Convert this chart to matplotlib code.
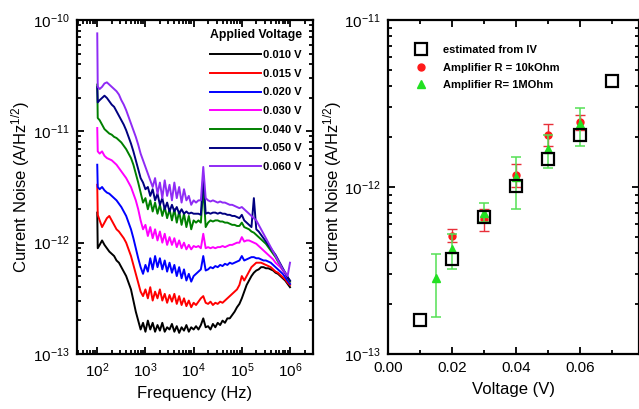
import numpy as np
import matplotlib
matplotlib.use('Agg')
import matplotlib.pyplot as plt
from matplotlib.lines import Line2D
from matplotlib.ticker import LogLocator, MultipleLocator, NullFormatter, FixedLocator

plt.rcParams['font.family'] = ['Liberation Sans', 'DejaVu Sans']
plt.rcParams['mathtext.fontset'] = 'custom'
plt.rcParams['mathtext.rm'] = 'Liberation Sans'
plt.rcParams['mathtext.it'] = 'Liberation Sans:italic'
plt.rcParams['mathtext.bf'] = 'Liberation Sans:bold'

# ---------------- left panel: noise spectra (log10 values) ----------------
log_freq = [2.00, 2.01,
            2.05, 2.10, 2.15, 2.20, 2.25, 2.30, 2.35, 2.40, 2.45, 2.50,
            2.55, 2.60, 2.65, 2.70, 2.75, 2.80, 2.85, 2.90, 2.95, 3.00,
            3.05, 3.10, 3.15, 3.20, 3.25, 3.30, 3.35, 3.40, 3.45, 3.50,
            3.55, 3.60, 3.65, 3.70, 3.75, 3.80, 3.85, 3.90, 3.95, 4.00,
            4.05, 4.10, 4.15, 4.20, 4.25, 4.30, 4.35, 4.40, 4.45, 4.50,
            4.55, 4.60, 4.65, 4.70, 4.75, 4.80, 4.85, 4.90, 4.95, 5.00,
            5.05, 5.10, 5.15, 5.20, 5.25, 5.30, 5.35, 5.40, 5.45, 5.50,
            5.55, 5.60, 5.65, 5.70, 5.75, 5.80, 5.85, 5.90, 5.95, 6.00]

noise_010 = [-11.73, -12.05,
             -12.02, -11.98, -12.02, -12.05, -12.08, -12.10, -12.12, -12.16, -12.18, -12.22,
             -12.26, -12.30, -12.36, -12.42, -12.52, -12.62, -12.70, -12.78, -12.72, -12.80,
             -12.70, -12.78, -12.72, -12.80, -12.74, -12.79, -12.72, -12.80, -12.76, -12.78,
             -12.73, -12.80, -12.75, -12.81, -12.76, -12.79, -12.74, -12.80, -12.76, -12.78,
             -12.75, -12.78, -12.74, -12.68, -12.76, -12.75, -12.78, -12.73, -12.76, -12.72,
             -12.74, -12.70, -12.72, -12.68, -12.68, -12.65, -12.62, -12.58, -12.55, -12.50,
             -12.44, -12.38, -12.34, -12.30, -12.27, -12.25, -12.24, -12.22, -12.22, -12.23,
             -12.23, -12.24, -12.25, -12.27, -12.28, -12.30, -12.32, -12.34, -12.37, -12.40]

noise_015 = [-11.48, -11.75,
             -11.80, -11.86, -11.82, -11.78, -11.76, -11.80, -11.84, -11.88, -11.90, -11.93,
             -11.96, -12.00, -12.06, -12.12, -12.20, -12.28, -12.36, -12.44, -12.48, -12.42,
             -12.50, -12.40, -12.52, -12.44, -12.50, -12.42, -12.52, -12.46, -12.54, -12.47,
             -12.53, -12.46, -12.55, -12.48, -12.56, -12.50, -12.57, -12.52, -12.58, -12.54,
             -12.56, -12.53, -12.50, -12.48, -12.54, -12.55, -12.53, -12.56, -12.54, -12.55,
             -12.53, -12.54, -12.52, -12.50, -12.48, -12.46, -12.44, -12.42, -12.38, -12.30,
             -12.34, -12.30, -12.26, -12.22, -12.20, -12.18, -12.18, -12.18, -12.19, -12.20,
             -12.21, -12.22, -12.24, -12.26, -12.27, -12.29, -12.31, -12.33, -12.36, -12.38]

noise_020 = [-11.30, -11.50,
             -11.52, -11.50, -11.53, -11.55, -11.56, -11.58, -11.60, -11.62, -11.65, -11.68,
             -11.72, -11.76, -11.82, -11.88, -11.96, -12.05, -12.14, -12.22, -12.28, -12.20,
             -12.26, -12.14, -12.24, -12.12, -12.22, -12.14, -12.24, -12.16, -12.26, -12.18,
             -12.27, -12.20, -12.30, -12.22, -12.32, -12.24, -12.34, -12.28, -12.35, -12.30,
             -12.28, -12.26, -12.24, -12.12, -12.25, -12.24, -12.22, -12.23, -12.21, -12.22,
             -12.20, -12.21, -12.19, -12.20, -12.18, -12.19, -12.18, -12.17, -12.16, -12.12,
             -12.16, -12.15, -12.14, -12.13, -12.13, -12.14, -12.14, -12.15, -12.16, -12.16,
             -12.17, -12.18, -12.20, -12.22, -12.24, -12.26, -12.28, -12.31, -12.34, -12.37]

noise_030 = [-10.97, -11.18,
             -11.20, -11.18, -11.22, -11.24, -11.25, -11.26, -11.28, -11.30, -11.33, -11.36,
             -11.39, -11.42, -11.46, -11.50, -11.56, -11.62, -11.70, -11.80, -11.88, -11.84,
             -11.94, -11.86, -11.96, -11.88, -11.98, -11.90, -12.00, -11.92, -12.02, -11.95,
             -12.02, -11.96, -12.04, -11.98, -12.05, -12.00, -12.06, -12.02, -12.06, -12.03,
             -12.04, -12.03, -12.05, -11.92, -12.05, -12.04, -12.05, -12.04, -12.05, -12.04,
             -12.04, -12.03, -12.04, -12.03, -12.02, -12.02, -12.01, -12.00, -12.00, -11.95,
             -11.99, -11.98, -11.98, -11.99, -12.00, -12.01, -12.03, -12.05, -12.07, -12.09,
             -12.11, -12.13, -12.15, -12.18, -12.20, -12.22, -12.25, -12.28, -12.31, -12.35]

noise_040 = [-10.58, -10.88,
             -10.90, -10.94, -10.98, -11.00, -11.02, -11.03, -11.05, -11.06, -11.08, -11.10,
             -11.13, -11.16, -11.20, -11.24, -11.30, -11.38, -11.46, -11.55, -11.64, -11.60,
             -11.70, -11.62, -11.72, -11.64, -11.74, -11.66, -11.76, -11.68, -11.78, -11.70,
             -11.80, -11.70, -11.82, -11.72, -11.84, -11.74, -11.86, -11.76, -11.88, -11.80,
             -11.82, -11.80, -11.82, -11.50, -11.86, -11.82, -11.80, -11.81, -11.80, -11.80,
             -11.81, -11.81, -11.82, -11.82, -11.83, -11.84, -11.84, -11.85, -11.85, -11.82,
             -11.86, -11.87, -11.88, -11.90, -11.91, -11.93, -11.95, -11.97, -11.99, -12.01,
             -12.04, -12.07, -12.10, -12.13, -12.17, -12.20, -12.24, -12.27, -12.31, -12.35]

noise_050 = [-10.60, -10.74,
             -10.72, -10.70, -10.68, -10.70, -10.73, -10.76, -10.78, -10.82, -10.86, -10.90,
             -10.94, -10.99, -11.05, -11.11, -11.18, -11.26, -11.34, -11.42, -11.46, -11.52,
             -11.50, -11.58, -11.52, -11.62, -11.56, -11.66, -11.60, -11.70, -11.64, -11.72,
             -11.66, -11.72, -11.68, -11.74, -11.70, -11.74, -11.72, -11.74, -11.73, -11.74,
             -11.74, -11.74, -11.75, -11.40, -11.74, -11.73, -11.74, -11.73, -11.73, -11.74,
             -11.73, -11.74, -11.74, -11.75, -11.75, -11.76, -11.76, -11.77, -11.78, -11.75,
             -11.80, -11.82, -11.84, -11.86, -11.60, -11.88, -11.90, -11.93, -11.96, -11.99,
             -12.02, -12.05, -12.08, -12.11, -12.15, -12.19, -12.23, -12.27, -12.31, -12.34]

noise_060 = [-10.12, -10.60,
             -10.62, -10.60, -10.57, -10.56, -10.58, -10.60, -10.62, -10.64, -10.67, -10.72,
             -10.76, -10.81, -10.87, -10.93, -10.99, -11.05, -11.12, -11.20, -11.26, -11.32,
             -11.38, -11.44, -11.50, -11.42, -11.56, -11.46, -11.60, -11.44, -11.58, -11.48,
             -11.62, -11.46, -11.60, -11.50, -11.64, -11.52, -11.62, -11.58, -11.66, -11.62,
             -11.64, -11.62, -11.62, -11.32, -11.60, -11.62, -11.63, -11.62, -11.63, -11.64,
             -11.63, -11.64, -11.64, -11.65, -11.66, -11.66, -11.67, -11.68, -11.69, -11.68,
             -11.70, -11.72, -11.74, -11.76, -11.78, -11.80, -11.84, -11.88, -11.92, -11.96,
             -12.00, -12.04, -12.08, -12.12, -12.16, -12.20, -12.24, -12.27, -12.30, -12.18]

spectra = [noise_010, noise_015, noise_020, noise_030, noise_040, noise_050, noise_060]
spectra_labels = ['0.010 V', '0.015 V', '0.020 V', '0.030 V', '0.040 V', '0.050 V', '0.060 V']
spectra_colors = ['black', '#ff0000', '#0000ff', '#ff00ff', '#008000', '#000080', '#8f2bf5']

# ---------------- right panel: noise vs voltage ----------------
volt_iv = [0.01, 0.02, 0.03, 0.04, 0.05, 0.06, 0.07]
noise_iv = [1.6e-13, 3.7e-13, 6.6e-13, 1.01e-12, 1.47e-12, 2.05e-12, 4.3e-12]

volt_10k = [0.02, 0.03, 0.04, 0.05, 0.06]
noise_10k = [5.1e-13, 6.4e-13, 1.18e-12, 2.05e-12, 2.45e-12]
lo_10k = [4.7e-13, 5.45e-13, 1.0e-12, 1.76e-12, 2.2e-12]
hi_10k = [5.6e-13, 7.4e-13, 1.37e-12, 2.38e-12, 2.7e-12]

volt_1M = [0.015, 0.02, 0.03, 0.04, 0.05, 0.06]
noise_1M = [2.85e-13, 4.25e-13, 7.0e-13, 1.15e-12, 1.7e-12, 2.4e-12]
lo_1M = [1.67e-13, 3.23e-13, 6.2e-13, 7.4e-13, 1.3e-12, 1.76e-12]
hi_1M = [3.97e-13, 5.2e-13, 8.0e-13, 1.51e-12, 2.05e-12, 2.97e-12]


def style_axes(ax):
    for sp in ax.spines.values():
        sp.set_linewidth(1.6)
    ax.tick_params(which='both', direction='in', top=True, right=True, width=1.3)
    ax.tick_params(which='major', length=5, labelsize=11, pad=5)
    ax.tick_params(which='minor', length=3)


fig = plt.figure(figsize=(6.39, 4.09), dpi=100)

# ---- left ----
ax1 = fig.add_axes([77 / 639, 1 - 354 / 409, 236 / 639, 334 / 409])
freq = 10 ** np.array(log_freq)
for vals, lab, col in zip(spectra, spectra_labels, spectra_colors):
    ax1.plot(freq, 10 ** np.array(vals), color=col, lw=1.4, label=lab)
ax1.set_xscale('log')
ax1.set_yscale('log')
ax1.set_xlim(38, 3.0e6)
ax1.set_ylim(1e-13, 1e-10)
ax1.xaxis.set_major_locator(FixedLocator([1e2, 1e3, 1e4, 1e5, 1e6]))
ax1.xaxis.set_minor_locator(LogLocator(base=10, subs=np.arange(2, 10), numticks=10))
ax1.xaxis.set_minor_formatter(NullFormatter())
ax1.yaxis.set_major_locator(FixedLocator([1e-13, 1e-12, 1e-11, 1e-10]))
ax1.yaxis.set_minor_locator(LogLocator(base=10, subs=np.arange(2, 10), numticks=10))
ax1.yaxis.set_minor_formatter(NullFormatter())
style_axes(ax1)
ax1.set_xlabel('Frequency (Hz)', fontsize=12, labelpad=5)
ax1.set_ylabel('Current Noise (A/Hz$^{1/2}$)', fontsize=12, labelpad=1)
ax1.legend(loc='upper right', bbox_to_anchor=(0.985, 0.995), frameon=False,
           title='Applied Voltage', prop={'weight': 'bold', 'size': 8},
           title_fontproperties={'weight': 'bold', 'size': 8.8},
           handlelength=4.6, handletextpad=0.15, labelspacing=0.78,
           borderaxespad=0.3)

# ---- right ----
ax2 = fig.add_axes([388 / 639, 1 - 354 / 409, 251 / 639, 334 / 409])
err_10k = [np.array(noise_10k) - np.array(lo_10k), np.array(hi_10k) - np.array(noise_10k)]
err_1M = [np.array(noise_1M) - np.array(lo_1M), np.array(hi_1M) - np.array(noise_1M)]
ax2.errorbar(volt_10k, noise_10k, yerr=err_10k, fmt='o', color='#ff1a1a', ms=5,
             ecolor='#e8303a', elinewidth=1, capsize=3.5, capthick=1, zorder=3)
ax2.errorbar(volt_1M, noise_1M, yerr=err_1M, fmt='^', color='#22e022', ms=6,
             ecolor='#55e055', elinewidth=1.1, capsize=3.5, capthick=1.1, zorder=4)
ax2.plot(volt_iv, noise_iv, 's', mfc='none', mec='black', mew=1.6, ms=8, zorder=5)
ax2.set_yscale('log')
ax2.set_xlim(0, 0.0785)
ax2.set_ylim(1e-13, 1e-11)
ax2.xaxis.set_major_locator(FixedLocator([0.0, 0.02, 0.04, 0.06]))
ax2.xaxis.set_minor_locator(MultipleLocator(0.01))
ax2.xaxis.set_major_formatter(plt.FormatStrFormatter('%.2f'))
ax2.yaxis.set_major_locator(FixedLocator([1e-13, 1e-12, 1e-11]))
ax2.yaxis.set_minor_locator(LogLocator(base=10, subs=np.arange(2, 10), numticks=10))
ax2.yaxis.set_minor_formatter(NullFormatter())
style_axes(ax2)
ax2.set_xlabel('Voltage (V)', fontsize=12, labelpad=5)
ax2.set_ylabel('Current Noise (A/Hz$^{1/2}$)', fontsize=12, labelpad=0)
handles = [Line2D([], [], ls='none', marker='s', mfc='none', mec='black', mew=1.6, ms=8),
           Line2D([], [], ls='none', marker='o', color='#ff1a1a', ms=5),
           Line2D([], [], ls='none', marker='^', color='#22e022', ms=6)]
labels = ['estimated from IV', 'Amplifier R = 10kOhm', 'Amplifier R= 1MOhm']
ax2.legend(handles, labels, loc='upper left', bbox_to_anchor=(0.07, 0.955), frameon=False,
           prop={'weight': 'bold', 'size': 8}, handlelength=1.0,
           handletextpad=1.5, labelspacing=0.68)

fig.savefig('out.png', dpi=100)
